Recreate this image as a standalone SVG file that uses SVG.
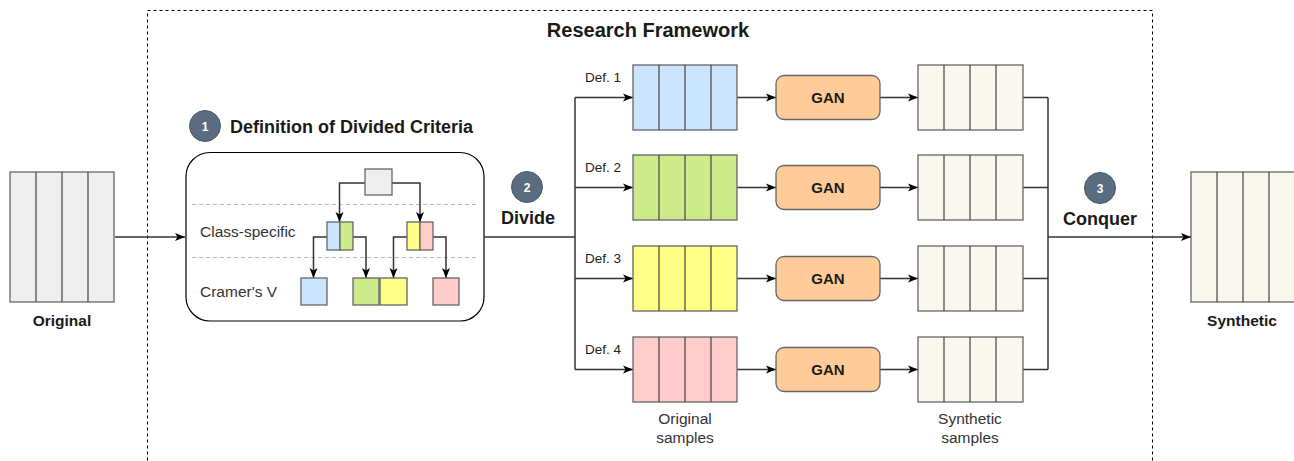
<svg xmlns="http://www.w3.org/2000/svg" width="1294" height="461" viewBox="0 0 1294 461">
<style>
  text { font-family: "Liberation Sans", Arial, sans-serif; fill: #1a1a1a; }
  .b { font-weight: bold; }
  .stk { stroke: #666; stroke-width: 1.3; }
  .col { stroke: #444; stroke-width: 1.2; }
  .con { fill: none; stroke: #333; stroke-width: 1.5; }
  .grey { fill: #eeeeee; }
  .blue { fill: #cce5ff; }
  .green { fill: #cdeb8b; }
  .yellow { fill: #ffff88; }
  .pink { fill: #ffcccc; }
  .syn { fill: #f9f7ed; }
  .gan { fill: #ffcc99; stroke: #666; stroke-width: 1.3; }
  .badge { fill: #5b6b80; stroke: #4a5a6e; stroke-width: 1; }
  .badget { fill: #fff; font-weight: bold; font-size: 12px; }
  .lbl { font-size: 13.5px; fill: #222; }
  .sm { font-size: 15.5px; fill: #333; }
  .big { font-size: 18px; }
</style>
<defs>
  <marker id="arr" viewBox="0 0 10 10" refX="10" refY="5" markerWidth="10" markerHeight="10" markerUnits="userSpaceOnUse" orient="auto">
    <path d="M0,1 L10,5 L0,9 L2.5,5 z" fill="#000"/>
  </marker>
</defs>
<rect width="1294" height="461" fill="#fff"/>

<!-- frame -->
<g id="frame">
  <rect x="147.5" y="10.5" width="1005" height="480" fill="none" stroke="#000" stroke-width="1" stroke-dasharray="3,3"/>
  <text x="648" y="37" class="b" font-size="20" text-anchor="middle">Research Framework</text>
</g>

<!-- Step 1 box -->
<g id="criteria">
  <circle cx="205" cy="126" r="15.5" class="badge"/>
  <text x="205" y="130.5" class="badget" text-anchor="middle">1</text>
  <text x="230" y="133" class="b big">Definition of Divided Criteria</text>
  <rect x="186" y="152.5" width="298" height="168.5" rx="24" ry="24" fill="#fff" stroke="#000" stroke-width="1.2"/>
  <line x1="192" y1="204.5" x2="477" y2="204.5" stroke="#bbb" stroke-width="1.2" stroke-dasharray="4,3"/>
  <line x1="192" y1="257.5" x2="477" y2="257.5" stroke="#bbb" stroke-width="1.2" stroke-dasharray="4,3"/>
  <text x="200" y="237" class="sm">Class-specific</text>
  <text x="200" y="297" class="sm">Cramer's V</text>
</g>

<!-- connectors -->
<g id="connectors">
  <line x1="115" y1="237" x2="185" y2="237" class="con" marker-end="url(#arr)"/>
  <polyline points="484,237 575,237" class="con"/>
  <line x1="575" y1="97.5" x2="575" y2="369.5" class="con"/>
  <line x1="575" y1="97.5" x2="633" y2="97.5" class="con" marker-end="url(#arr)"/>
  <line x1="575" y1="187.5" x2="633" y2="187.5" class="con" marker-end="url(#arr)"/>
  <line x1="575" y1="278.5" x2="633" y2="278.5" class="con" marker-end="url(#arr)"/>
  <line x1="575" y1="369.5" x2="633" y2="369.5" class="con" marker-end="url(#arr)"/>
  <line x1="737" y1="97.5" x2="776" y2="97.5" class="con" marker-end="url(#arr)"/>
  <line x1="737" y1="187.5" x2="776" y2="187.5" class="con" marker-end="url(#arr)"/>
  <line x1="737" y1="278.5" x2="776" y2="278.5" class="con" marker-end="url(#arr)"/>
  <line x1="737" y1="369.5" x2="776" y2="369.5" class="con" marker-end="url(#arr)"/>
  <line x1="880" y1="97.5" x2="918" y2="97.5" class="con" marker-end="url(#arr)"/>
  <line x1="880" y1="187.5" x2="918" y2="187.5" class="con" marker-end="url(#arr)"/>
  <line x1="880" y1="278.5" x2="918" y2="278.5" class="con" marker-end="url(#arr)"/>
  <line x1="880" y1="369.5" x2="918" y2="369.5" class="con" marker-end="url(#arr)"/>
  <line x1="1023" y1="97.5" x2="1048" y2="97.5" class="con"/>
  <line x1="1023" y1="187.5" x2="1048" y2="187.5" class="con"/>
  <line x1="1023" y1="278.5" x2="1048" y2="278.5" class="con"/>
  <line x1="1023" y1="369.5" x2="1048" y2="369.5" class="con"/>
  <line x1="1048" y1="97.5" x2="1048" y2="369.5" class="con"/>
  <line x1="1048" y1="237" x2="1191" y2="237" class="con" marker-end="url(#arr)"/>
  <!-- tree connectors -->
  <polyline points="365,183 339.5,183 339.5,222" class="con" marker-end="url(#arr)"/>
  <polyline points="392,183 420,183 420,222" class="con" marker-end="url(#arr)"/>
  <polyline points="327,237 313.5,237 313.5,278" class="con" marker-end="url(#arr)"/>
  <polyline points="353,237 366,237 366,278" class="con" marker-end="url(#arr)"/>
  <polyline points="407,237 393.5,237 393.5,278" class="con" marker-end="url(#arr)"/>
  <polyline points="433,237 446,237 446,278" class="con" marker-end="url(#arr)"/>
</g>

<!-- Original -->
<g id="original">
  <rect x="10" y="172" width="104" height="130" class="grey stk"/>
  <line x1="36" y1="172" x2="36" y2="302" class="col"/>
  <line x1="62" y1="172" x2="62" y2="302" class="col"/>
  <line x1="88" y1="172" x2="88" y2="302" class="col"/>
  <text x="62" y="326" class="b" font-size="15.5" text-anchor="middle">Original</text>
</g>

<g id="tree-root"><rect x="365" y="169" width="27" height="26" class="grey stk"/></g>
<g id="tree-mid-left">
  <rect x="327" y="222" width="13" height="28" class="blue stk"/>
  <rect x="340" y="222" width="13" height="28" class="green stk"/>
</g>
<g id="tree-mid-right">
  <rect x="407" y="222" width="13" height="28" class="yellow stk"/>
  <rect x="420" y="222" width="13" height="28" class="pink stk"/>
</g>
<g id="tree-leaves">
  <rect x="301" y="278" width="26" height="27" class="blue stk"/>
  <rect x="353" y="278" width="26" height="27" class="green stk"/>
  <rect x="380" y="278" width="27" height="27" class="yellow stk"/>
  <rect x="433" y="278" width="26" height="27" class="pink stk"/>
</g>

<!-- Step 2 -->
<g id="divide">
  <circle cx="527" cy="187" r="15.5" class="badge"/>
  <text x="527" y="191.5" class="badget" text-anchor="middle">2</text>
  <text x="528" y="224" class="b big" text-anchor="middle">Divide</text>
</g>

<!-- rows -->
<g id="def1">
  <text x="585" y="82" class="lbl">Def. 1</text>
  <rect x="633" y="65" width="104" height="65" class="blue stk"/>
  <line x1="659" y1="65" x2="659" y2="130" class="col"/><line x1="685" y1="65" x2="685" y2="130" class="col"/><line x1="711" y1="65" x2="711" y2="130" class="col"/>
</g>
<g id="def2">
  <text x="585" y="172" class="lbl">Def. 2</text>
  <rect x="633" y="155" width="104" height="65" class="green stk"/>
  <line x1="659" y1="155" x2="659" y2="220" class="col"/><line x1="685" y1="155" x2="685" y2="220" class="col"/><line x1="711" y1="155" x2="711" y2="220" class="col"/>
</g>
<g id="def3">
  <text x="585" y="263" class="lbl">Def. 3</text>
  <rect x="633" y="246" width="104" height="65" class="yellow stk"/>
  <line x1="659" y1="246" x2="659" y2="311" class="col"/><line x1="685" y1="246" x2="685" y2="311" class="col"/><line x1="711" y1="246" x2="711" y2="311" class="col"/>
</g>
<g id="def4">
  <text x="585" y="354" class="lbl">Def. 4</text>
  <rect x="633" y="337" width="104" height="65" class="pink stk"/>
  <line x1="659" y1="337" x2="659" y2="402" class="col"/><line x1="685" y1="337" x2="685" y2="402" class="col"/><line x1="711" y1="337" x2="711" y2="402" class="col"/>
  <text x="685" y="424" class="sm" text-anchor="middle">Original</text>
  <text x="685" y="443" class="sm" text-anchor="middle">samples</text>
</g>

<g id="gan1"><rect x="776" y="75.5" width="104" height="44" rx="8" class="gan"/><text x="828" y="103" class="b" font-size="15" text-anchor="middle">GAN</text></g>
<g id="gan2"><rect x="776" y="165.5" width="104" height="44" rx="8" class="gan"/><text x="828" y="193" class="b" font-size="15" text-anchor="middle">GAN</text></g>
<g id="gan3"><rect x="776" y="256.5" width="104" height="44" rx="8" class="gan"/><text x="828" y="284" class="b" font-size="15" text-anchor="middle">GAN</text></g>
<g id="gan4"><rect x="776" y="347.5" width="104" height="44" rx="8" class="gan"/><text x="828" y="375" class="b" font-size="15" text-anchor="middle">GAN</text></g>

<g id="syn1">
  <rect x="918" y="65" width="105" height="65" class="syn stk"/>
  <line x1="944" y1="65" x2="944" y2="130" class="col"/><line x1="970" y1="65" x2="970" y2="130" class="col"/><line x1="996" y1="65" x2="996" y2="130" class="col"/>
</g>
<g id="syn2">
  <rect x="918" y="155" width="105" height="65" class="syn stk"/>
  <line x1="944" y1="155" x2="944" y2="220" class="col"/><line x1="970" y1="155" x2="970" y2="220" class="col"/><line x1="996" y1="155" x2="996" y2="220" class="col"/>
</g>
<g id="syn3">
  <rect x="918" y="246" width="105" height="65" class="syn stk"/>
  <line x1="944" y1="246" x2="944" y2="311" class="col"/><line x1="970" y1="246" x2="970" y2="311" class="col"/><line x1="996" y1="246" x2="996" y2="311" class="col"/>
</g>
<g id="syn4">
  <rect x="918" y="337" width="105" height="65" class="syn stk"/>
  <line x1="944" y1="337" x2="944" y2="402" class="col"/><line x1="970" y1="337" x2="970" y2="402" class="col"/><line x1="996" y1="337" x2="996" y2="402" class="col"/>
  <text x="970" y="424" class="sm" text-anchor="middle">Synthetic</text>
  <text x="970" y="443" class="sm" text-anchor="middle">samples</text>
</g>

<!-- Step 3 -->
<g id="conquer">
  <circle cx="1100" cy="188" r="15.5" class="badge"/>
  <text x="1100" y="192.5" class="badget" text-anchor="middle">3</text>
  <text x="1100" y="225" class="b big" text-anchor="middle">Conquer</text>
</g>

<g id="synthetic">
  <rect x="1191" y="172" width="104" height="130" class="syn stk"/>
  <line x1="1217" y1="172" x2="1217" y2="302" class="col"/>
  <line x1="1243" y1="172" x2="1243" y2="302" class="col"/>
  <line x1="1269" y1="172" x2="1269" y2="302" class="col"/>
  <text x="1242" y="326" class="b" font-size="15.5" text-anchor="middle">Synthetic</text>
</g>
</svg>
